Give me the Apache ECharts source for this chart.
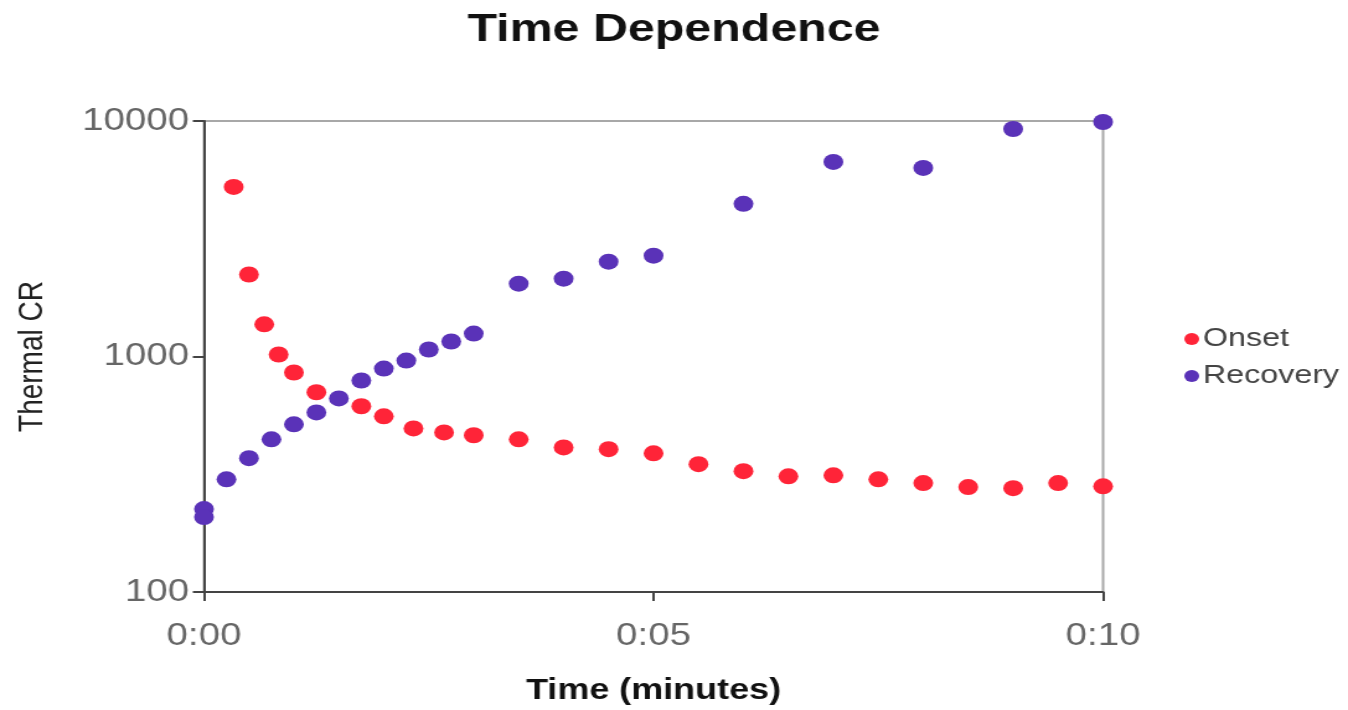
<!DOCTYPE html>
<html>
<head>
<meta charset="utf-8">
<script src="https://cdn.jsdelivr.net/npm/echarts@6/dist/echarts.min.js"></script>
<style>
  html, body { margin: 0; padding: 0; background: #fff; overflow: hidden; }
  /* the source picture is stretched sideways, so draw narrow and stretch */
  #chart { width: 1087px; height: 710px; transform: scaleX(1.2401); transform-origin: 0 0; }
</style>
</head>
<body>
<div id="chart"></div>
<script>
  var onsetTime = [0.33, 0.5, 0.67, 0.83, 1.0, 1.25, 1.75, 2.0, 2.33, 2.67, 3.0, 3.5, 4.0, 4.5, 5.0, 5.5, 6.0, 6.5, 7.0, 7.5, 8.0, 8.5, 9.0, 9.5, 10.0];
  var onsetCR = [5250, 2230, 1370, 1020, 855, 705, 615, 557, 495, 476, 463, 445, 411, 404, 388, 349, 326, 310, 313, 301, 290, 279, 276, 290, 281];

  var recoveryTime = [0, 0, 0.25, 0.5, 0.75, 1.0, 1.25, 1.5, 1.75, 2.0, 2.25, 2.5, 2.75, 3.0, 3.5, 4.0, 4.5, 5.0, 6.0, 7.0, 8.0, 9.0, 10.0];
  var recoveryCR = [225, 208, 301, 370, 445, 515, 579, 664, 791, 889, 961, 1071, 1158, 1251, 2038, 2141, 2527, 2679, 4450, 6700, 6320, 9250, 9900];

  var seriesNames = ['Onset', 'Recovery'];

  function pairs(xs, ys) {
    return xs.map(function (x, i) { return [x, ys[i]]; });
  }

  var font = "'Liberation Sans', Arial, sans-serif";

  var option = {
    backgroundColor: '#fff',
    textStyle: { fontFamily: font },
    title: {
      text: 'Time Dependence',
      left: 'center',
      top: 11,
      padding: 0,
      textStyle: { fontFamily: font, fontSize: 39, fontWeight: 'bold', color: '#111' }
    },
    legend: {
      data: seriesNames,
      orient: 'vertical',
      left: 950,
      top: 321,
      itemWidth: 12,
      itemHeight: 12,
      itemGap: 11,
      icon: 'circle',
      textStyle: { fontFamily: font, fontSize: 26, color: '#444', padding: [0, 0, 0, -2] }
    },
    grid: {
      left: 164.5,
      right: 197.5,
      top: 121,
      bottom: 117,
      show: true,
      borderColor: '#a8a8a8',
      borderWidth: 2
    },
    xAxis: {
      type: 'value',
      min: 0,
      max: 10,
      interval: 5,
      name: 'Time (minutes)',
      nameLocation: 'middle',
      nameGap: 84,
      nameTextStyle: { fontFamily: font, fontSize: 29, fontWeight: 'bold', color: '#111' },
      axisLine: { lineStyle: { color: '#444', width: 2 } },
      axisTick: { show: true, length: 9, lineStyle: { color: '#444', width: 2 } },
      axisLabel: {
        margin: 29,
        fontFamily: font,
        fontSize: 31,
        color: '#666',
        formatter: function (v) { return '0:' + (v < 10 ? '0' : '') + v; }
      },
      splitLine: { show: false }
    },
    yAxis: {
      type: 'log',
      logBase: 10,
      min: 100,
      max: 10000,
      name: 'Thermal CR',
      nameLocation: 'middle',
      nameGap: 124,
      nameTextStyle: { fontFamily: font, fontSize: 28, color: '#222' },
      axisLine: { show: true, lineStyle: { color: '#444', width: 2 } },
      axisTick: { show: true, length: 9, lineStyle: { color: '#444', width: 2 } },
      axisLabel: {
        margin: 12,
        fontFamily: font,
        fontSize: 31,
        color: '#666',
        formatter: function (v) { return String(Math.round(v)); }
      },
      splitLine: { show: false },
      minorTick: { show: false }
    },
    series: [
      {
        name: seriesNames[0],
        type: 'scatter',
        clip: false,
        symbolSize: 16,
        itemStyle: { color: '#ff2438', opacity: 1 },
        data: pairs(onsetTime, onsetCR)
      },
      {
        name: seriesNames[1],
        type: 'scatter',
        clip: false,
        symbolSize: 16,
        itemStyle: { color: '#5a32b8', opacity: 1 },
        data: pairs(recoveryTime, recoveryCR)
      }
    ]
  };

  var myChart = echarts.init(document.getElementById('chart'), null, { renderer: 'canvas' });
  myChart.setOption(option);
</script>
</body>
</html>
